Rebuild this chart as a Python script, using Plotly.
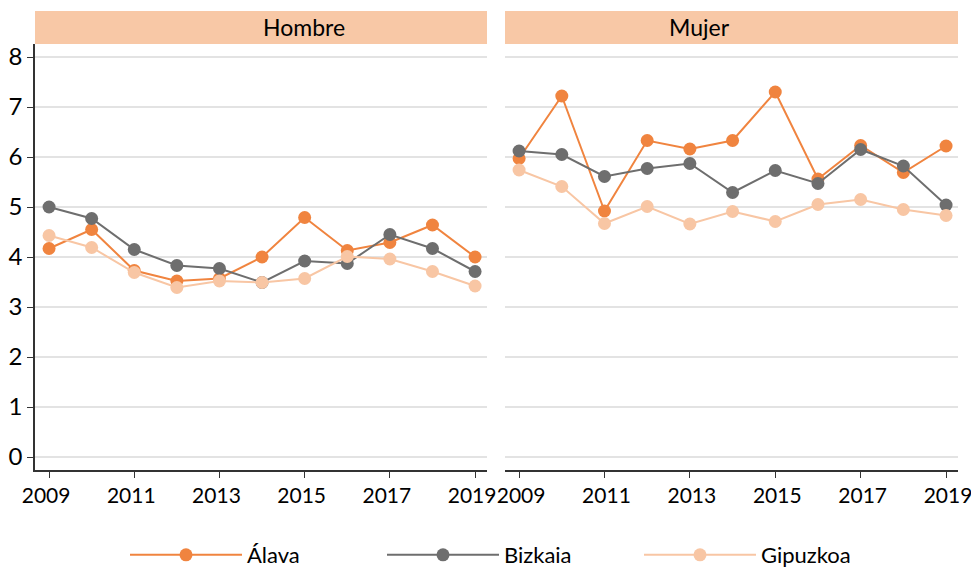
import plotly.graph_objects as go

# ============================================================================
# Data
# ============================================================================

years = list(range(2009, 2020))
panels = ['Hombre', 'Mujer']
provinces = ['Álava', 'Bizkaia', 'Gipuzkoa']

alava_hombre = [4.17, 4.55, 3.73, 3.52, 3.57, 4.00, 4.79, 4.13, 4.29, 4.64, 4.00]
bizkaia_hombre = [5.00, 4.77, 4.15, 3.83, 3.77, 3.49, 3.92, 3.87, 4.45, 4.17, 3.71]
gipuzkoa_hombre = [4.43, 4.19, 3.69, 3.39, 3.52, 3.49, 3.57, 4.01, 3.96, 3.71, 3.42]

alava_mujer = [5.97, 7.22, 4.92, 6.33, 6.16, 6.33, 7.30, 5.56, 6.23, 5.69, 6.22]
bizkaia_mujer = [6.12, 6.05, 5.61, 5.77, 5.87, 5.29, 5.73, 5.47, 6.15, 5.82, 5.04]
gipuzkoa_mujer = [5.74, 5.41, 4.67, 5.01, 4.66, 4.91, 4.71, 5.05, 5.15, 4.95, 4.83]

series = {
    'Hombre': [alava_hombre, bizkaia_hombre, gipuzkoa_hombre],
    'Mujer': [alava_mujer, bizkaia_mujer, gipuzkoa_mujer],
}

colors = ['#F0843F', '#6E6E6E', '#F8C6A4']

# ============================================================================
# Plot
# ============================================================================

W, H = 971, 570
ML, MR, MT, MB = 35, 13, 44, 100
pw = W - ML - MR
ph = H - MT - MB

fig = go.Figure()

axis_ids = [('x', 'y'), ('x2', 'y2')]
for p_idx, panel in enumerate(panels):
    xa, ya = axis_ids[p_idx]
    for s_idx, name in enumerate(provinces):
        fig.add_trace(go.Scatter(
            x=years,
            y=series[panel][s_idx],
            mode='lines+markers',
            name=name,
            legendgroup=name,
            showlegend=(p_idx == 0),
            line=dict(color=colors[s_idx], width=2),
            marker=dict(color=colors[s_idx], size=13),
            xaxis=xa,
            yaxis=ya,
        ))

x_domains = [[0, (487 - ML) / pw], [(505 - ML) / pw, 1]]

common_x = dict(
    range=[2008.67, 2019.28],
    tickmode='linear', tick0=2009, dtick=2,
    showgrid=False, zeroline=False,
    showline=True, linecolor='#333333', linewidth=1.5,
    ticks='outside', ticklen=6, tickcolor='#333333',
    tickfont=dict(size=21, color='black'),
    ticklabeloverflow='allow',
    ticklabelstandoff=0,
    automargin=False,
)
common_y = dict(
    range=[-0.26, 8.26],
    tickmode='linear', tick0=0, dtick=1,
    showgrid=True, gridcolor='#E3E3E3', gridwidth=1.5,
    zeroline=False,
    domain=[0, 1],
    automargin=False,
)

fig.update_layout(
    xaxis=dict(domain=x_domains[0], anchor='y', ticklabelshift=-3, **common_x),
    xaxis2=dict(domain=x_domains[1], anchor='y2', ticklabelshift=2, **common_x),
    yaxis=dict(anchor='x', showline=True, linecolor='#333333', linewidth=1.5,
               ticks='outside', ticklen=6, tickcolor='#333333',
               tickfont=dict(size=24, color='black'), **common_y),
    yaxis2=dict(anchor='x2', showline=False, showticklabels=False, **common_y),
)

# facet strips
for p_idx, panel in enumerate(panels):
    x0, x1 = x_domains[p_idx]
    fig.add_shape(type='rect', xref='paper', yref='paper',
                  x0=x0, x1=x1, y0=1, y1=1 + 33 / ph,
                  fillcolor='#F8C8A6', line=dict(width=0), layer='below')
    fig.add_annotation(text=panel, xref='paper', yref='paper',
                       x=(x0 + x1) / 2, y=1 + 16.5 / ph, yanchor='middle',
                       showarrow=False, font=dict(size=23, color='black'))

fig.update_layout(
    width=W,
    height=H,
    margin=dict(l=ML, r=MR, t=MT, b=MB, autoexpand=False),
    paper_bgcolor='white',
    plot_bgcolor='white',
    font=dict(family='Lato, sans-serif', color='black'),
    legend=dict(
        orientation='h',
        x=0.5 + 14 / pw, xanchor='center',
        y=-(555 - MT - ph) / ph, yanchor='middle',
        entrywidth=130,
        font=dict(size=22),
        itemwidth=112,
    ),
)

# drop the default body margin so the figure sits at the page corner
fig.write_html('out.html', config={'displayModeBar': False},
               post_script="document.body.style.margin='0';")
